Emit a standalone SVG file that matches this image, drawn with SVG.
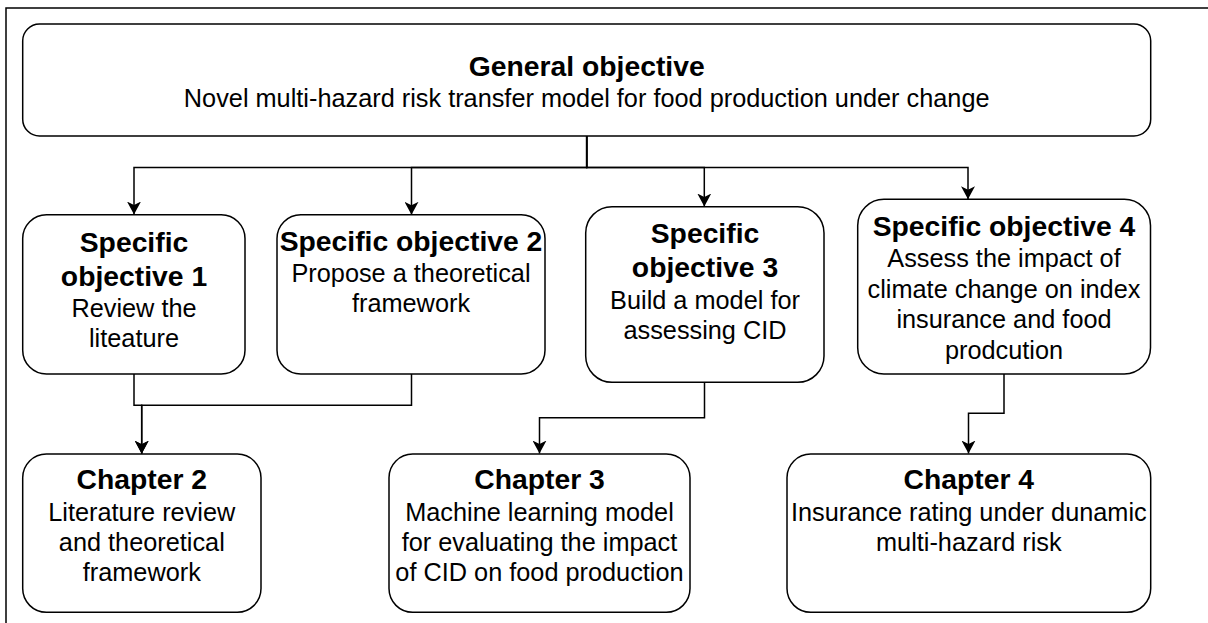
<svg xmlns="http://www.w3.org/2000/svg" width="1208" height="623" viewBox="0 0 1208 623">
  <style>
    .box { fill: #ffffff; stroke: #000000; stroke-width: 1.5; }
    .frame { fill: none; stroke: #000000; stroke-width: 1.5; }
    .edge { fill: none; stroke: #000000; stroke-width: 1.5; }
    text { font-family: "Liberation Sans", Arial, Helvetica, sans-serif; fill: #000000; text-anchor: middle; }
    .t { font-size: 28.3px; font-weight: bold; }
    .d { font-size: 25.3px; }
  </style>
  <defs>
    <marker id="arrow" viewBox="0 0 14 14" refX="13" refY="7" markerWidth="14" markerHeight="14" markerUnits="userSpaceOnUse" orient="auto">
      <path d="M0,0 L13,7 L0,14 L3.5,7 Z" fill="#000000"/>
    </marker>
  </defs>

  <rect x="0" y="0" width="1208" height="623" fill="#ffffff"/>
  <!-- page frame -->
  <rect class="frame" x="6" y="8" width="1220" height="640"/>

  <!-- connectors -->
  <g id="connectors">
    <path class="edge" d="M586.7,136 V167.5 H134 V214.5" marker-end="url(#arrow)"/>
    <path class="edge" d="M586.7,136 V167.5 H411.5 V214.8" marker-end="url(#arrow)"/>
    <path class="edge" d="M586.7,136 V167.5 H704.3 V206.5" marker-end="url(#arrow)"/>
    <path class="edge" d="M586.7,136 V167.5 H968 V199.3" marker-end="url(#arrow)"/>
    <path class="edge" d="M134,374 V405.3 H141.7 V453.7" marker-end="url(#arrow)"/>
    <path class="edge" d="M411.5,374 V405.3 H141.7 V453.7" marker-end="url(#arrow)"/>
    <path class="edge" d="M704.5,382.3 V417.7 H539.5 V453.5" marker-end="url(#arrow)"/>
    <path class="edge" d="M1004,374 V413.3 H968.5 V453.5" marker-end="url(#arrow)"/>
  </g>

  <g id="general-objective">
    <rect class="box" x="22.7" y="24" width="1128" height="112" rx="16.8" ry="16.8"/>
    <text class="t" x="586.7" y="75.5">General objective</text>
    <text class="d" x="586.7" y="106.7">Novel multi-hazard risk transfer model for food production under change</text>
  </g>

  <g id="specific-objective-1">
    <rect class="box" x="22.7" y="214.8" width="222.3" height="159.2" rx="23.8" ry="23.8"/>
    <text class="t" x="134" y="251.7">Specific</text>
    <text class="t" x="134" y="285.7">objective 1</text>
    <text class="d" x="134" y="316.9">Review the</text>
    <text class="d" x="134" y="347.3">liteature</text>
  </g>

  <g id="specific-objective-2">
    <rect class="box" x="277" y="214.8" width="268" height="159.2" rx="23.8" ry="23.8"/>
    <text class="t" x="411" y="250.5">Specific objective 2</text>
    <text class="d" x="411" y="281.7">Propose a theoretical</text>
    <text class="d" x="411" y="312.1">framework</text>
  </g>

  <g id="specific-objective-3">
    <rect class="box" x="585.7" y="206.7" width="238.3" height="175.6" rx="26.3" ry="26.3"/>
    <text class="t" x="705" y="243.3">Specific</text>
    <text class="t" x="705" y="277.3">objective 3</text>
    <text class="d" x="705" y="308.5">Build a model for</text>
    <text class="d" x="705" y="338.9">assessing CID</text>
  </g>

  <g id="specific-objective-4">
    <rect class="box" x="857.7" y="199.3" width="292.8" height="174.7" rx="26.2" ry="26.2"/>
    <text class="t" x="1004" y="236.3">Specific objective 4</text>
    <text class="d" x="1004" y="267.3">Assess the impact of</text>
    <text class="d" x="1004" y="297.7">climate change on index</text>
    <text class="d" x="1004" y="328.1">insurance and food</text>
    <text class="d" x="1004" y="358.5">prodcution</text>
  </g>

  <g id="chapter-2">
    <rect class="box" x="22.7" y="454" width="238.3" height="158.3" rx="23.7" ry="23.7"/>
    <text class="t" x="141.8" y="489.3">Chapter 2</text>
    <text class="d" x="141.8" y="520.5">Literature review</text>
    <text class="d" x="141.8" y="550.9">and theoretical</text>
    <text class="d" x="141.8" y="581.3">framework</text>
  </g>

  <g id="chapter-3">
    <rect class="box" x="389" y="454" width="301" height="158.3" rx="23.7" ry="23.7"/>
    <text class="t" x="539.5" y="489.3">Chapter 3</text>
    <text class="d" x="539.5" y="520.5">Machine learning model</text>
    <text class="d" x="539.5" y="550.9">for evaluating the impact</text>
    <text class="d" x="539.5" y="581.3">of CID on food production</text>
  </g>

  <g id="chapter-4">
    <rect class="box" x="787" y="454" width="363.7" height="158.3" rx="23.7" ry="23.7"/>
    <text class="t" x="968.8" y="489.3">Chapter 4</text>
    <text class="d" x="968.8" y="520.5">Insurance rating under dunamic</text>
    <text class="d" x="968.8" y="550.9">multi-hazard risk</text>
  </g>
</svg>
